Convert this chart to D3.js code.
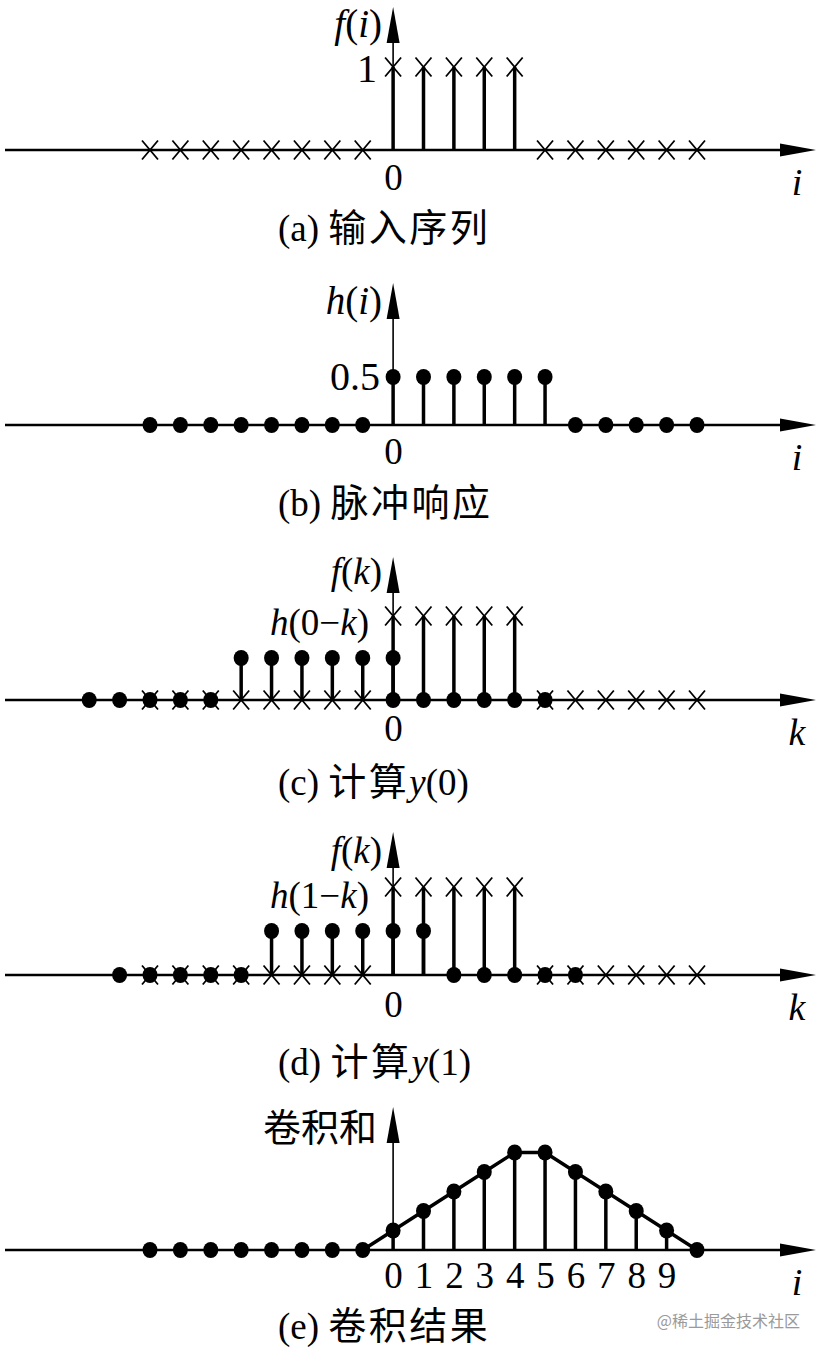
<!DOCTYPE html>
<meta charset="utf-8">
<style>
body { margin: 0; background: #fff; }
.serif { font-family: "Liberation Serif", "Times New Roman", serif; }
.cjk { font-family: "Noto Sans CJK SC", sans-serif; }
</style>
<body>
<script src="https://cdn.jsdelivr.net/npm/d3@7/dist/d3.min.js"></script>
<script>

// (a) input sequence f(i)
var fIdx = d3.range(-8, 11);
var fVal = [0, 0, 0, 0, 0, 0, 0, 0, 1, 1, 1, 1, 1, 0, 0, 0, 0, 0, 0];

// (b) impulse response h(i)
var hIdx = d3.range(-8, 11);
var hVal = [0, 0, 0, 0, 0, 0, 0, 0, 0.5, 0.5, 0.5, 0.5, 0.5, 0.5, 0, 0, 0, 0, 0];

// (c) h(0-k), flipped
var h0Idx = d3.range(-10, 6);
var h0Val = [0, 0, 0, 0, 0, 0.5, 0.5, 0.5, 0.5, 0.5, 0.5, 0, 0, 0, 0, 0];
var h0Extra = [0]; // extra dot sitting on the axis at k = 0

// (d) h(1-k), flipped and shifted by one
var h1Idx = d3.range(-9, 7);
var h1Val = [0, 0, 0, 0, 0, 0.5, 0.5, 0.5, 0.5, 0.5, 0.5, 0, 0, 0, 0, 0];

// (e) convolution sum y(i)
var yIdx = d3.range(-8, 11);
var yVal = [0, 0, 0, 0, 0, 0, 0, 0, 0.5, 1, 1.5, 2, 2.5, 2.5, 2, 1.5, 1, 0.5, 0];
var yTicks = [0, 1, 2, 3, 4, 5, 6, 7, 8, 9];

var width = 828, height = 1357;

var svg = d3.select("body").append("svg")
    .attr("width", width)
    .attr("height", height);

var x = d3.scaleLinear()
    .domain([-8, 10])
    .range([150, 697]);

var axisLeftX = 5, axisRightX = 816, arrowLen = 36, arrowHalf = 6.5;

function zip(idx, val) {
  return idx.map(function(k, i) { return {k: k, v: val[i]}; });
}

function panel(axisY, topY, unit) {
  var g = svg.append("g");
  var y = d3.scaleLinear().domain([0, 1]).range([axisY, axisY - unit]);

  // horizontal axis + arrow
  g.append("line")
      .attr("x1", axisLeftX).attr("x2", axisRightX - arrowLen + 2)
      .attr("y1", axisY).attr("y2", axisY)
      .attr("stroke", "#000").attr("stroke-width", 2.5);
  g.append("path")
      .attr("d", "M" + axisRightX + "," + axisY +
                 "L" + (axisRightX - arrowLen) + "," + (axisY - arrowHalf) +
                 "L" + (axisRightX - arrowLen) + "," + (axisY + arrowHalf) + "Z")
      .attr("fill", "#000");

  // vertical axis + arrow
  var x0 = x(0);
  g.append("line")
      .attr("x1", x0).attr("x2", x0)
      .attr("y1", axisY).attr("y2", topY + arrowLen - 2)
      .attr("stroke", "#000").attr("stroke-width", 1.6);
  g.append("path")
      .attr("d", "M" + x0 + "," + topY +
                 "L" + (x0 - arrowHalf) + "," + (topY + arrowLen) +
                 "L" + (x0 + arrowHalf) + "," + (topY + arrowLen) + "Z")
      .attr("fill", "#000");

  return {g: g, y: y, axisY: axisY};
}

function stems(p, idx, val) {
  p.g.append("g").selectAll("line")
      .data(zip(idx, val).filter(function(d) { return d.v !== 0; }))
      .enter().append("line")
      .attr("x1", function(d) { return x(d.k); })
      .attr("x2", function(d) { return x(d.k); })
      .attr("y1", p.y(0))
      .attr("y2", function(d) { return p.y(d.v); })
      .attr("stroke", "#000").attr("stroke-width", 3.5);
}

function crosses(p, idx, val) {
  p.g.append("g").selectAll("path")
      .data(zip(idx, val))
      .enter().append("path")
      .attr("d", function(d) {
        var cx = x(d.k), cy = p.y(d.v), a = 8, b = 9.5;
        return "M" + (cx - a) + "," + (cy - b) + "L" + (cx + a) + "," + (cy + b) +
               "M" + (cx + a) + "," + (cy - b) + "L" + (cx - a) + "," + (cy + b);
      })
      .attr("stroke", "#000").attr("stroke-width", 1.8).attr("fill", "none");
}

function dots(p, idx, val) {
  p.g.append("g").selectAll("ellipse")
      .data(zip(idx, val))
      .enter().append("ellipse")
      .attr("cx", function(d) { return x(d.k); })
      .attr("cy", function(d) { return p.y(d.v); })
      .attr("rx", 7.5).attr("ry", 8)
      .attr("fill", "#000");
}

function zeroTicks(p, values, pad) {
  var ax = p.g.append("g")
      .attr("transform", "translate(0," + p.axisY + ")")
      .call(d3.axisBottom(x).tickValues(values).tickSize(0).tickPadding(pad).tickFormat(d3.format("d")));
  ax.select(".domain").remove();
  ax.selectAll("text")
      .attr("class", "serif")
      .attr("font-family", "Liberation Serif")
      .style("font-size", "37px")
      .attr("fill", "#000");
}

// parts: [text, italic?]
function mathText(xp, yp, anchor, size, parts) {
  var t = svg.append("text")
      .attr("class", "serif")
      .attr("x", xp).attr("y", yp)
      .attr("text-anchor", anchor)
      .style("font-size", size + "px");
  parts.forEach(function(s) {
    t.append("tspan").text(s[0]).style("font-style", s[1] ? "italic" : "normal");
  });
  return t;
}

function caption(yp, parts) {
  var t = svg.append("text")
      .attr("x", 278).attr("y", yp)
      .style("font-size", "37px");
  parts.forEach(function(s) {
    var ts = t.append("tspan").text(s[0]);
    if (s[1] === "cjk") ts.attr("class", "cjk").style("font-size", "38px").style("letter-spacing", "2.5px");
    else ts.attr("class", "serif").style("font-style", s[1] === "i" ? "italic" : "normal");
  });
}

function axisName(p, name) {
  mathText(797, p.axisY + 45, "middle", 38, [[name, true]]);
}

// ---- (a)
var pa = panel(150, 7, 83);
stems(pa, fIdx, fVal);
crosses(pa, fIdx, fVal);
zeroTicks(pa, [0], 14);
axisName(pa, "i");
mathText(382, 37, "end", 39, [["f", true], ["(", false], ["i", true], [")", false]]);
mathText(377, 82, "end", 40, [["1", false]]);
caption(241, [["(a) ", "n"], ["输入序列", "cjk"]]);

// ---- (b)
var pb = panel(425, 283, 96);
stems(pb, hIdx, hVal);
dots(pb, hIdx, hVal);
zeroTicks(pb, [0], 13);
axisName(pb, "i");
mathText(382, 314, "end", 39, [["h", true], ["(", false], ["i", true], [")", false]]);
mathText(380, 390, "end", 40, [["0.5", false]]);
caption(516, [["(b) ", "n"], ["脉冲响应", "cjk"]]);

// ---- (c)
var pc = panel(700, 557, 84);
stems(pc, fIdx, fVal);
stems(pc, h0Idx, h0Val);
crosses(pc, fIdx, fVal);
dots(pc, h0Idx, h0Val);
dots(pc, h0Extra, [0]);
zeroTicks(pc, [0], 15);
axisName(pc, "k");
mathText(382, 584, "end", 37, [["f", true], ["(", false], ["k", true], [")", false]]);
mathText(369, 635, "end", 37, [["h", true], ["(0\u2212", false], ["k", true], [")", false]]);
caption(795, [["(c) ", "n"], ["计算", "cjk"], ["y", "i"], ["(0)", "n"]]);

// ---- (d)
var pd = panel(975, 832, 88);
stems(pd, fIdx, fVal);
stems(pd, h1Idx, h1Val);
crosses(pd, fIdx, fVal);
dots(pd, h1Idx, h1Val);
zeroTicks(pd, [0], 16);
axisName(pd, "k");
mathText(382, 863, "end", 37, [["f", true], ["(", false], ["k", true], [")", false]]);
mathText(369, 908, "end", 37, [["h", true], ["(1\u2212", false], ["k", true], [")", false]]);
caption(1075, [["(d) ", "n"], ["计算", "cjk"], ["y", "i"], ["(1)", "n"]]);

// ---- (e)
var pe = panel(1250, 1107, 39);
var envelope = zip(yIdx, yVal).filter(function(d) { return d.k >= -1; });
pe.g.append("path")
    .datum(envelope)
    .attr("d", d3.line()
        .x(function(d) { return x(d.k); })
        .y(function(d) { return pe.y(d.v); }))
    .attr("fill", "none").attr("stroke", "#000").attr("stroke-width", 3.5)
    .attr("stroke-linejoin", "round");
stems(pe, yIdx, yVal);
dots(pe, yIdx, yVal);
zeroTicks(pe, yTicks, 12);
axisName(pe, "i");
svg.append("text")
    .attr("class", "cjk")
    .attr("x", 377).attr("y", 1141)
    .attr("text-anchor", "end")
    .style("font-size", "38px")
    .text("卷积和");
caption(1339, [["(e) ", "n"], ["卷积结果", "cjk"]]);

svg.append("text")
    .attr("class", "cjk")
    .attr("x", 800).attr("y", 1327)
    .attr("text-anchor", "end")
    .attr("fill", "#9a9a9a")
    .style("font-size", "16px")
    .text("@稀土掘金技术社区");

</script>
